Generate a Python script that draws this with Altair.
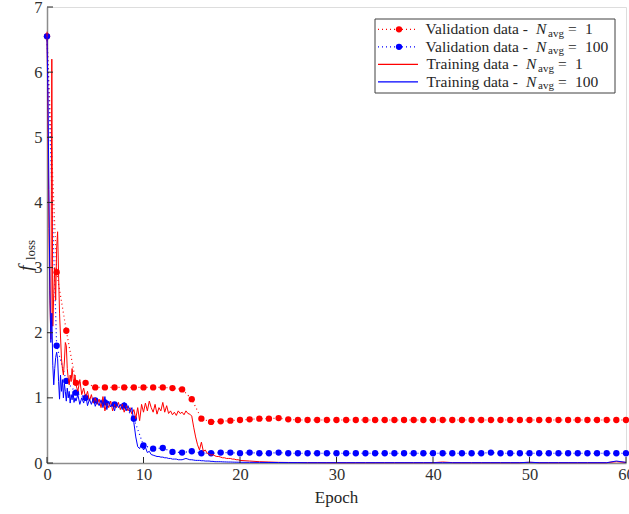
import altair as alt
import pandas as pd

# ---- validation loss, one value per epoch (0..60) ----
val_epochs = list(range(61))
val_navg1 = [6.55, 2.93, 2.03, 1.23, 1.23, 1.16, 1.16, 1.16, 1.16, 1.16,
             1.16, 1.16, 1.16, 1.15, 1.13, 0.98, 0.68, 0.63, 0.64, 0.65,
             0.66, 0.67, 0.68, 0.68, 0.69, 0.67, 0.66, 0.66, 0.66, 0.66,
             0.66, 0.66, 0.66, 0.66, 0.66, 0.66, 0.66, 0.66, 0.66, 0.66,
             0.66, 0.66, 0.66, 0.66, 0.66, 0.66, 0.66, 0.66, 0.66, 0.66,
             0.66, 0.66, 0.66, 0.66, 0.66, 0.66, 0.66, 0.66, 0.66, 0.66,
             0.66]
val_navg100 = [6.55, 1.80, 1.26, 1.08, 1.00, 0.96, 0.93, 0.90, 0.88, 0.68,
               0.27, 0.22, 0.23, 0.17, 0.16, 0.18, 0.15, 0.15, 0.16, 0.16,
               0.15, 0.16, 0.15, 0.15, 0.16, 0.15, 0.15, 0.15, 0.15, 0.15,
               0.15, 0.15, 0.15, 0.15, 0.15, 0.15, 0.15, 0.15, 0.15, 0.15,
               0.15, 0.15, 0.15, 0.15, 0.15, 0.15, 0.16, 0.15, 0.15, 0.15,
               0.15, 0.15, 0.15, 0.15, 0.15, 0.15, 0.15, 0.15, 0.15, 0.15,
               0.15]

# ---- training loss, sampled within epochs ----
# segment A: epochs 0.0 .. 3.0 every 0.1
train1_a = [6.62, 5.2, 3.6, 2.5, 1.9, 6.2, 2.1, 2.6, 3.0, 2.5,
            3.3, 3.55, 2.9, 2.3, 1.95, 1.6, 1.45, 1.35, 1.55, 1.85,
            1.8, 1.45, 1.3, 1.2, 1.35, 1.25, 1.45, 1.3, 1.2, 1.35,
            1.2]
train100_a = [6.55, 5.6, 4.2, 2.65, 1.85, 2.3, 1.5, 1.2, 1.45, 1.62,
              1.7, 1.6, 1.25, 0.98, 1.35, 1.1, 1.28, 1.0, 1.22, 1.1,
              0.95, 1.15, 1.0, 1.1, 0.92, 1.05, 0.97, 1.1, 0.93, 1.0,
              0.95]
# segment B: epochs 3.2 .. 20.0 every 0.2
train1_b = [1.1, 1.28, 1.05, 1.15, 1.0, 1.1, 0.95, 1.05, 0.92, 1.0,
            0.9, 0.98, 0.85, 1.02, 0.8, 0.92, 0.85, 0.95, 0.8, 0.9,
            0.85, 0.93, 0.82, 0.9, 0.78, 0.88, 0.8, 0.85, 0.75, 0.82,
            0.68, 0.85, 0.65, 0.9, 0.78, 0.92, 0.8, 0.95, 0.85, 0.78,
            0.9, 0.75, 0.85, 0.8, 0.93, 0.78, 0.88, 0.76, 0.8, 0.74,
            0.78, 0.73, 0.8, 0.76, 0.78, 0.74, 0.8, 0.76, 0.75, 0.72,
            0.55, 0.4, 0.28, 0.2, 0.32, 0.18, 0.2, 0.15, 0.14, 0.12,
            0.13, 0.11, 0.1, 0.1, 0.09, 0.08, 0.08, 0.07, 0.07, 0.07,
            0.06, 0.06, 0.05, 0.05, 0.04]
train100_b = [1.05, 0.9, 1.0, 0.92, 1.05, 0.88, 0.98, 0.9, 1.0, 0.87,
              0.95, 0.88, 0.97, 0.85, 1.02, 0.82, 0.95, 0.86, 0.92, 0.8,
              0.93, 0.85, 0.9, 0.82, 0.93, 0.8, 0.88, 0.78, 0.85, 0.62,
              0.4, 0.25, 0.22, 0.3, 0.2, 0.24, 0.16, 0.18, 0.13, 0.12,
              0.11, 0.1, 0.1, 0.09, 0.09, 0.08, 0.08, 0.07, 0.07, 0.06,
              0.06, 0.06, 0.05, 0.05, 0.05, 0.06, 0.07, 0.06, 0.05, 0.05,
              0.045, 0.04, 0.04, 0.04, 0.035, 0.035, 0.03, 0.03, 0.03, 0.025,
              0.025, 0.02, 0.02, 0.02, 0.02, 0.018, 0.017, 0.016, 0.015, 0.015,
              0.014, 0.013, 0.012, 0.012, 0.011]
# segment C: epochs 21 .. 60 every 1
train1_c = [0.03, 0.02, 0.015, 0.01, 0.008, 0.007, 0.006, 0.006, 0.005, 0.005,
            0.005, 0.005, 0.005, 0.005, 0.005, 0.005, 0.005, 0.005, 0.005, 0.005,
            0.015, 0.006, 0.005, 0.005, 0.005, 0.005, 0.005, 0.005, 0.005, 0.01,
            0.005, 0.005, 0.005, 0.005, 0.005, 0.005, 0.005, 0.005, 0.02, 0.008]
train100_c = [0.01, 0.009, 0.008, 0.007, 0.006, 0.006, 0.005, 0.005, 0.005, 0.005,
              0.005, 0.005, 0.005, 0.005, 0.005, 0.005, 0.005, 0.005, 0.005, 0.005,
              0.005, 0.005, 0.005, 0.005, 0.005, 0.005, 0.005, 0.005, 0.005, 0.012,
              0.005, 0.005, 0.005, 0.005, 0.005, 0.005, 0.005, 0.005, 0.03, 0.01]

x_ticks = [0, 10, 20, 30, 40, 50, 60]
y_ticks = [0, 1, 2, 3, 4, 5, 6, 7]

RED = "#ff0000"
BLUE = "#0000ff"
FONT = "Liberation Serif"
INK = "#262626"
W, H = 579, 456


def train_epochs(a, b, c):
    xs = [round(0.1 * i, 1) for i in range(len(a))]
    xs += [round(3.2 + 0.2 * i, 1) for i in range(len(b))]
    xs += [21 + i for i in range(len(c))]
    return xs


val_df = pd.DataFrame({
    "epoch": val_epochs * 2,
    "loss": val_navg1 + val_navg100,
    "series": ["v1"] * 61 + ["v100"] * 61,
})
t1 = train1_a + train1_b + train1_c
t100 = train100_a + train100_b + train100_c
train_df = pd.DataFrame({
    "epoch": train_epochs(train1_a, train1_b, train1_c)
    + train_epochs(train100_a, train100_b, train100_c),
    "loss": t1 + t100,
    "series": ["t1"] * len(t1) + ["t100"] * len(t100),
})

xs = alt.Scale(domain=[0, 60], nice=False, zero=False)
ys = alt.Scale(domain=[0, 7], nice=False, zero=False)
x_axis = alt.Axis(values=x_ticks, title=None)
y_axis = alt.Axis(values=y_ticks, title=None)


def X(field):
    return alt.X(field, type="quantitative", scale=xs, axis=x_axis)


def Y(field):
    return alt.Y(field, type="quantitative", scale=ys, axis=y_axis)


layers = []

# validation curves: dotted line with filled dots at every epoch
for name, color in [("v1", RED), ("v100", BLUE)]:
    base = alt.Chart(val_df[val_df.series == name])
    layers.append(base.mark_line(strokeDash=[1, 3], strokeWidth=1.2, color=color)
                  .encode(x=X("epoch"), y=Y("loss")))
    layers.append(base.mark_circle(size=40, opacity=1, color=color)
                  .encode(x=X("epoch"), y=Y("loss")))

# training curves
for name, color in [("t1", RED), ("t100", BLUE)]:
    layers.append(
        alt.Chart(train_df[train_df.series == name]).mark_line(
            strokeWidth=1, color=color).encode(x=X("epoch"), y=Y("loss")))

# inward tick marks
xt = pd.DataFrame({"epoch": x_ticks})
yt = pd.DataFrame({"loss": y_ticks})
layers.append(alt.Chart(xt).mark_rule(color=INK, strokeWidth=1).encode(
    x=X("epoch"), y=alt.value(H), y2=alt.value(H - 6)))
layers.append(alt.Chart(yt).mark_rule(color=INK, strokeWidth=1).encode(
    y=Y("loss"), x=alt.value(0), x2=alt.value(6)))

one = pd.DataFrame({"k": [0]})


def txt(text, x, y, size=17, style="normal", angle=0, align="left",
        baseline="alphabetic"):
    return alt.Chart(one).mark_text(
        text=text, font=FONT, fontSize=size, fontStyle=style, angle=angle,
        align=align, baseline=baseline, color=INK).encode(
        x=alt.value(x), y=alt.value(y))


# axis titles
layers.append(txt("Epoch", W / 2, 496, size=17, align="center"))
layers.append(txt("f", -21, 261, size=19, style="italic", angle=270,
                  align="center", baseline="middle"))
layers.append(txt("loss", -16, 243, size=13, angle=270,
                  align="center", baseline="middle"))

# legend box
ox, oy = 47, 7
layers.append(alt.Chart(one).mark_rect(fill="white", stroke="#404040",
                                        strokeWidth=1).encode(
    x=alt.value(375 - ox), x2=alt.value(615 - ox),
    y=alt.value(19 - oy), y2=alt.value(93 - oy)))

legend_rows = [
    ("Validation data -", "1", RED, True, 536),
    ("Validation data -", "100", BLUE, True, 536),
    ("Training data -", "1", RED, False, 526),
    ("Training data -", "100", BLUE, False, 526),
]
for i, (lab, n, color, dotted, nx) in enumerate(legend_rows):
    base_y = 34.3 + 17.5 * i - oy
    mid_y = base_y - 5
    rule = alt.Chart(one).mark_rule(color=color, strokeWidth=1.2,
                                    strokeDash=[1, 3] if dotted else [1, 0])
    layers.append(rule.encode(x=alt.value(378 - ox), x2=alt.value(418 - ox),
                              y=alt.value(mid_y)))
    if dotted:
        layers.append(alt.Chart(one).mark_circle(size=40, opacity=1, color=color)
                      .encode(x=alt.value(399 - ox), y=alt.value(mid_y)))
    layers.append(txt(lab, nx - 8 - ox, base_y, size=15.5, align="right"))
    layers.append(txt("N", nx - ox, base_y, size=15.5, style="italic"))
    layers.append(txt("avg", nx + 12 - ox, base_y + 2.5, size=11))
    layers.append(txt("=", nx + 32 - ox, base_y, size=15.5))
    layers.append(txt(n, nx + 49 - ox, base_y, size=15.5))

chart = alt.layer(*layers).properties(
    width=W, height=H,
    autosize=alt.AutoSizeParams(type="none"),
    padding={"left": 47, "top": 7, "right": 3, "bottom": 51},
).configure_view(stroke=None).configure(background="white").configure_axis(
    ticks=False, grid=False, labelFlush=False, labelOverlap=False,
    domainColor="#8c8c8c", domainWidth=1.5,
    labelFont=FONT, labelFontSize=16.5, labelColor="#303030",
).configure_axisX(labelPadding=3).configure_axisY(labelPadding=5)

chart.save("out.html", embed_options={"renderer": "svg", "actions": False})
